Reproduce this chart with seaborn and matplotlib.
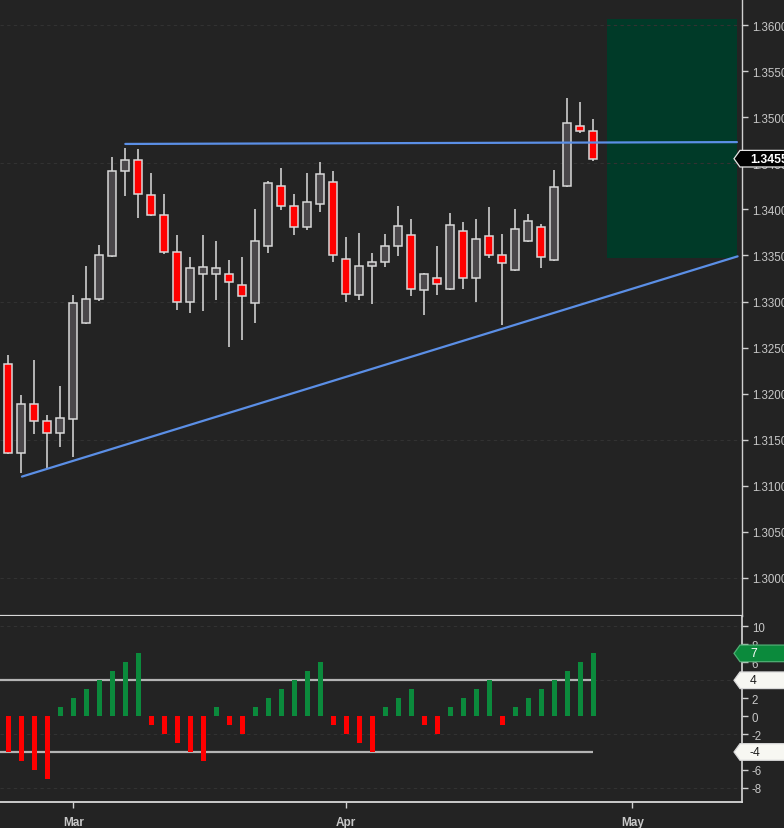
import numpy as np
import pandas as pd
import matplotlib
matplotlib.use("Agg")
import matplotlib.pyplot as plt
from matplotlib.patches import Rectangle, Polygon
from matplotlib.transforms import IdentityTransform
import seaborn as sns

# ---------------- data ----------------
start_date = "2019-02-22"
opens = [1.3232, 1.3136, 1.3189, 1.3170, 1.3157, 1.3173, 1.3277, 1.3303, 1.3349, 1.3442,
         1.3454, 1.3416, 1.3394, 1.3354, 1.3300, 1.3330, 1.3330, 1.3330, 1.3318, 1.3298,
         1.3360, 1.3425, 1.3404, 1.3381, 1.3406, 1.3430, 1.3346, 1.3307, 1.3338, 1.3343,
         1.3360, 1.3372, 1.3313, 1.3326, 1.3314, 1.3376, 1.3326, 1.3371, 1.3350, 1.3334,
         1.3366, 1.3381, 1.3345, 1.3425, 1.3490, 1.3485]
highs = [1.3242, 1.3198, 1.3236, 1.3177, 1.3208, 1.3307, 1.3338, 1.3361, 1.3457, 1.3467,
         1.3466, 1.3440, 1.3417, 1.3372, 1.3348, 1.3372, 1.3366, 1.3345, 1.3348, 1.3400,
         1.3431, 1.3445, 1.3417, 1.3440, 1.3451, 1.3442, 1.3370, 1.3374, 1.3353, 1.3373,
         1.3404, 1.3390, 1.3331, 1.3360, 1.3396, 1.3386, 1.3390, 1.3403, 1.3373, 1.3400,
         1.3395, 1.3384, 1.3443, 1.3521, 1.3516, 1.3498]
lows = [1.3134, 1.3114, 1.3156, 1.3119, 1.3142, 1.3131, 1.3276, 1.3301, 1.3348, 1.3414,
        1.3391, 1.3393, 1.3352, 1.3291, 1.3288, 1.3290, 1.3302, 1.3251, 1.3258, 1.3277,
        1.3353, 1.3399, 1.3372, 1.3378, 1.3397, 1.3343, 1.3299, 1.3302, 1.3297, 1.3337,
        1.3349, 1.3306, 1.3285, 1.3307, 1.3313, 1.3314, 1.3299, 1.3347, 1.3274, 1.3333,
        1.3365, 1.3336, 1.3344, 1.3424, 1.3483, 1.3453]
closes = [1.3136, 1.3189, 1.3170, 1.3157, 1.3174, 1.3298, 1.3303, 1.3350, 1.3442, 1.3454,
          1.3417, 1.3394, 1.3354, 1.3300, 1.3336, 1.3337, 1.3336, 1.3321, 1.3306, 1.3366,
          1.3429, 1.3404, 1.3381, 1.3408, 1.3438, 1.3350, 1.3308, 1.3338, 1.3343, 1.3360,
          1.3382, 1.3314, 1.3330, 1.3319, 1.3383, 1.3326, 1.3368, 1.3350, 1.3342, 1.3379,
          1.3387, 1.3348, 1.3424, 1.3494, 1.3485, 1.3455]
counts = [-4, -5, -6, -7, 1, 2, 3, 4, 5, 6, 7, -1, -2, -3, -4, -5, 1, -1, -2, 1,
          2, 3, 4, 5, 6, -1, -2, -3, -4, 1, 2, 3, -1, -2, 1, 2, 3, 4, -1, 1,
          2, 3, 4, 5, 6, 7]
count_levels = [4, -4]

month_labels = ["Mar", "Apr", "May"]
month_dates = ["2019-03-01", "2019-04-01", "2019-05-01"]

# drawn objects (bar-index, price)
resistance_x = [9.0, 56.05]
resistance_y = [1.3471, 1.3473]
support_x = [1.05, 56.1]
support_y = [1.3110, 1.3349]
zone_x = [46.05, 56.05]
zone_y = [1.3347, 1.3607]

last_price_label = "1.3455"

# ---------------- derived ----------------
dates = pd.bdate_range(start_date, periods=len(closes))
xi = np.arange(len(closes))
month_pos = [int(np.busday_count(start_date, d)) for d in month_dates]
df = pd.DataFrame({"x": xi, "date": dates, "open": opens, "high": highs,
                   "low": lows, "close": closes, "count": counts})
df["dir"] = np.where(df["count"] > 0, "up", "down")

BG = "#232323"
FG = "#c8c8c8"
sns.set_theme(style="dark", rc={
    "axes.facecolor": BG, "figure.facecolor": BG, "savefig.facecolor": BG,
    "axes.edgecolor": "#d0d0d0", "text.color": FG,
    "xtick.color": FG, "ytick.color": FG,
})
plt.rcParams["font.family"] = ["Liberation Sans", "DejaVu Sans"]

W, H = 784, 829
fig = plt.figure(figsize=(W / 100, H / 100), dpi=100)
ax = fig.add_axes([0, 1 - 617 / H, 742 / W, 617 / H])
ax2 = fig.add_axes([0, 1 - 803 / H, 742 / W, (803 - 617) / H], sharex=ax)

# ---- main panel ----
ax.add_patch(Rectangle((zone_x[0], zone_y[0]), zone_x[1] - zone_x[0], zone_y[1] - zone_y[0],
                       facecolor="#003a28", edgecolor="none", zorder=0))
for gy in [1.30, 1.315, 1.33, 1.345, 1.36]:
    ax.axhline(gy, color="#323232", lw=0.8, ls=(0, (3, 3)), zorder=0.5)

up = df["close"] >= df["open"]
fills = np.where(up, "#4a474a", "#ff0000")
ax.vlines(df["x"], df["low"], df["high"], color="#dcdcdc", lw=1.1, zorder=2)
ax.bar(df["x"], (df["close"] - df["open"]).abs().clip(lower=0.00004),
       bottom=np.minimum(df["open"], df["close"]), width=0.62,
       color=fills, edgecolor="#d8d8d8", linewidth=1.1, zorder=3)

ax.plot(resistance_x, resistance_y, color="#5b8fe6", lw=1.6, zorder=4)
ax.plot(support_x, support_y, color="#5b8fe6", lw=1.6, zorder=4)

ax.set_xlim(-0.64, 56.44)
ax.set_ylim(1.29587, 1.36283)
yt = np.arange(1.300, 1.3601, 0.005)
ax.set_yticks(yt)
ax.set_yticklabels([f"{v:.5f}" for v in yt])
ax.yaxis.tick_right()
ax.tick_params(axis="y", which="both", right=True, left=False, length=4, width=1,
               color="#d0d0d0", labelsize=8.3, pad=3, labelcolor=FG)
ax.tick_params(axis="x", bottom=False, labelbottom=False)
for s in ["left", "top"]:
    ax.spines[s].set_visible(False)
ax.spines["right"].set_color("#d0d0d0")
ax.spines["right"].set_linewidth(1.0)
ax.spines["bottom"].set_color("#d8d8d8")
ax.spines["bottom"].set_linewidth(1.6)

# ---- indicator panel ----
for gy in [10, 4, -2, -8]:
    ax2.axhline(gy, color="#323232", lw=0.8, ls=(0, (3, 3)), zorder=0.5)
ax2.hlines(count_levels, -0.64, xi[-1], color="#b4b4b4", lw=1.6, zorder=1)
sns.barplot(data=df, x="x", y="count", hue="dir", native_scale=True, dodge=False,
            palette={"up": "#0b8a3c", "down": "#ff0000"}, saturation=1, width=0.4,
            legend=False, ax=ax2, zorder=2, edgecolor="none", linewidth=0)
ax2.set_xlim(-0.64, 56.44)
ax2.set_ylim(-9.58, 11.17)
ax2.set_yticks(np.arange(-8, 11, 2))
ax2.set_yticklabels([str(v) for v in np.arange(-8, 11, 2)])
ax2.yaxis.tick_right()
ax2.tick_params(axis="y", right=True, left=False, length=4, width=1, color="#d0d0d0",
                labelsize=8.3, pad=3, labelcolor=FG)
ax2.set_xticks(month_pos)
ax2.set_xticklabels(month_labels, fontweight="bold")
ax2.tick_params(axis="x", bottom=True, length=4, width=1, color="#d0d0d0",
                labelsize=8.5, pad=6, labelcolor=FG)
ax2.set_xlabel("")
ax2.set_ylabel("")
for s in ["left", "top"]:
    ax2.spines[s].set_visible(False)
ax2.spines["right"].set_color("#d0d0d0")
ax2.spines["bottom"].set_color("#d8d8d8")
ax2.spines["bottom"].set_linewidth(1.3)


def price_tag(axis, value, text, fc, ec, tc, bold=False):
    y = axis.transData.transform((0, value))[1]
    half = 8.3
    tip = 734
    pts = [(tip, y), (tip + 6, y + half), (W + 10, y + half), (W + 10, y - half), (tip + 6, y - half)]
    fig.add_artist(Polygon(pts, closed=True, transform=IdentityTransform(),
                           facecolor=fc, edgecolor=ec, lw=0.9, zorder=10))
    fig.text(750 / W, y / H, text, ha="left", va="center", fontsize=8.8, color=tc,
             fontweight="bold" if bold else "normal", zorder=11)


price_tag(ax, closes[-1], last_price_label, "#000000", "#e6e6e6", "white", bold=True)
price_tag(ax2, counts[-1], str(counts[-1]), "#0b8a3c", "#4fae74", "white")
for lv in count_levels:
    price_tag(ax2, lv, str(lv), "#f7f7f2", "#d8d8d8", "#1e1e1e")

fig.savefig("out.png", dpi=100, facecolor=BG)
